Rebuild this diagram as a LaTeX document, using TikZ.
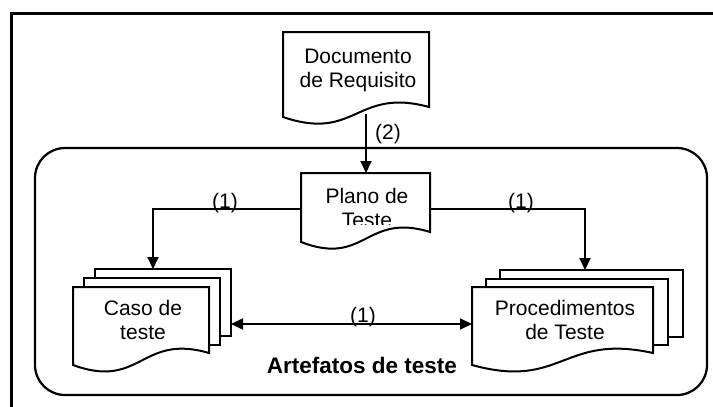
\documentclass[tikz,border=0pt]{standalone}
\usepackage{fontspec}
\setmainfont{Liberation Sans}
\usetikzlibrary{arrows.meta}
\tikzset{
  sheet/.style={line width=2pt, fill=white, line join=miter},
  conn/.style={line width=2pt, -{Triangle[length=12pt,width=11pt]}},
  biconn/.style={line width=2pt, {Triangle[length=12pt,width=11pt]}-{Triangle[length=12pt,width=11pt]}},
  lbl/.style={font=\fontsize{21}{24}\selectfont, inner sep=0pt, align=center},
  numlbl/.style={font=\fontsize{21}{24}\selectfont, inner sep=0pt},
}
\begin{document}
\begin{tikzpicture}[x=1pt,y=-1pt]
\useasboundingbox (0,0) rectangle (713,407);
\clip (0,0) rectangle (713,407);
\fill[white] (0,0) rectangle (713,407);
% outer frame (cut off at right and bottom)
\draw[line width=3pt] (730,13.5) -- (11.5,13.5) -- (11.5,430);
% inner rounded group
\draw[line width=2.25pt, rounded corners=30pt] (35,148) rectangle (707,395);
% Documento de Requisito
\draw[sheet] (283,32) -- (429,32) -- (429,107) .. controls (356,87) and (356,142) .. (283,117) -- cycle;
\node[lbl] (doc) at (358,70) {Documento\\de Requisito};
\coordinate (docB) at (366,114);
% Plano de Teste
\draw[sheet] (301,173) -- (430,173) -- (430,232) .. controls (365.5,212) and (365.5,267) .. (301,242) -- cycle;
\begin{scope}
\clip (301,173) rectangle (430,224);
\node[lbl] (plano) at (367,208) {Plano de\\Teste};
\end{scope}
\coordinate (planoT) at (366,173);
\coordinate (planoL) at (301,209);
\coordinate (planoR) at (430,209);
% Caso de teste stack
\draw[sheet] (95,269) rectangle (231,336);
\draw[sheet] (84,278) rectangle (220,345);
\draw[sheet] (73,287) -- (209,287) -- (209,353) .. controls (141,333) and (141,390) .. (73,365) -- cycle;
\node[lbl] (caso) at (143,320) {Caso de\\teste};
\coordinate (casoT) at (153,269);
\coordinate (casoR) at (231,324);
% Procedimentos de Teste stack
\draw[sheet] (500,270) rectangle (683,337);
\draw[sheet] (486,279) rectangle (668,345);
\draw[sheet] (472,287) -- (653,287) -- (653,353) .. controls (562.5,333) and (562.5,390) .. (472,365) -- cycle;
\node[lbl] (proc) at (565,320) {Procedimentos\\de Teste};
\coordinate (procT) at (585,270);
\coordinate (procL) at (472,324);
% connectors
\draw[conn] (docB) -- (planoT);
\draw[conn] (planoL) -| (casoT);
\draw[conn] (planoR) -| (procT);
\draw[biconn] (casoR) -- (procL);
% labels
\node[numlbl] (l2) at (388,134) {(2)};
\node[numlbl] (l1a) at (225,203) {(1)};
\node[numlbl] (l1b) at (521,203) {(1)};
\node[numlbl] (l1c) at (363,317) {(1)};
\node[font=\fontsize{22.5}{26}\selectfont\bfseries, inner sep=0pt, anchor=base] (grp) at (362,373) {Artefatos de teste};
\end{tikzpicture}
\end{document}
